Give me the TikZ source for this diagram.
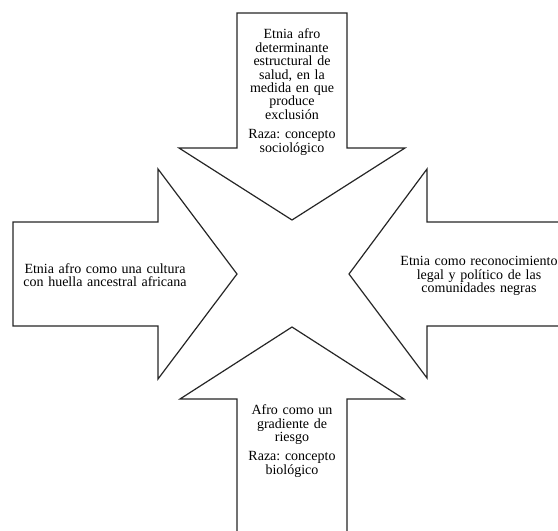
\documentclass[tikz,border=0pt]{standalone}
\usepackage{fontspec}
\setmainfont{Liberation Serif}
\usetikzlibrary{positioning}
\newcommand{\capfont}{\fontsize{14}{13.4}\selectfont\frenchspacing\setlength{\lineskiplimit}{-20pt}}

\begin{document}
\begin{tikzpicture}[x=1pt, y=-1pt,
  blockarrow/.style={
    % The border:
    line width=1.2pt,
    draw=black!85,
    line join=miter,
    % The filling:
    fill=white},
  caption/.style={
    % Font
    font=\capfont,
    inner sep=0pt,
    text width=#1,
    align = center % required if you use new line
  }]

  \useasboundingbox (0,0) rectangle (558,531);
  \clip (0,0) rectangle (558,531);

  % the four arrows, all pointing to the middle
  \draw[blockarrow] (237,13) -- (347,13) -- (347,148) -- (405,148) -- (292,220)
    -- (179,148) -- (237,148) -- cycle;
  \draw[blockarrow] (13,222) -- (158,222) -- (158,169) -- (237,274)
    -- (158,379) -- (158,326) -- (13,326) -- cycle;
  \draw[blockarrow] (566,222) -- (427,222) -- (427,169) -- (349,274)
    -- (427,378) -- (427,326) -- (566,326);
  \draw[blockarrow] (237,540) -- (237,399) -- (180,399) -- (292,327)
    -- (404,399) -- (347,399) -- (347,540);

  \node (social) [caption=104pt] at (292,92) {Etnia afro\\ determinante\\ estructural de\\ salud, en la\\ medida en que\\ produce\\ exclusión\\[6pt] Raza: concepto\\ sociológico};
  \node (cultura) [caption=170pt] at (105,275) {Etnia afro como una cultura\\ con huella ancestral africana};
  \node (legal) [caption=170pt] at (479,276) {Etnia como reconocimiento\\ legal y político de las\\ comunidades negras};
  \node (riesgo) [caption=104pt] at (292,441) {Afro como un\\ gradiente de\\ riesgo\\[6pt] Raza: concepto\\ biológico};
\end{tikzpicture}
\end{document}
